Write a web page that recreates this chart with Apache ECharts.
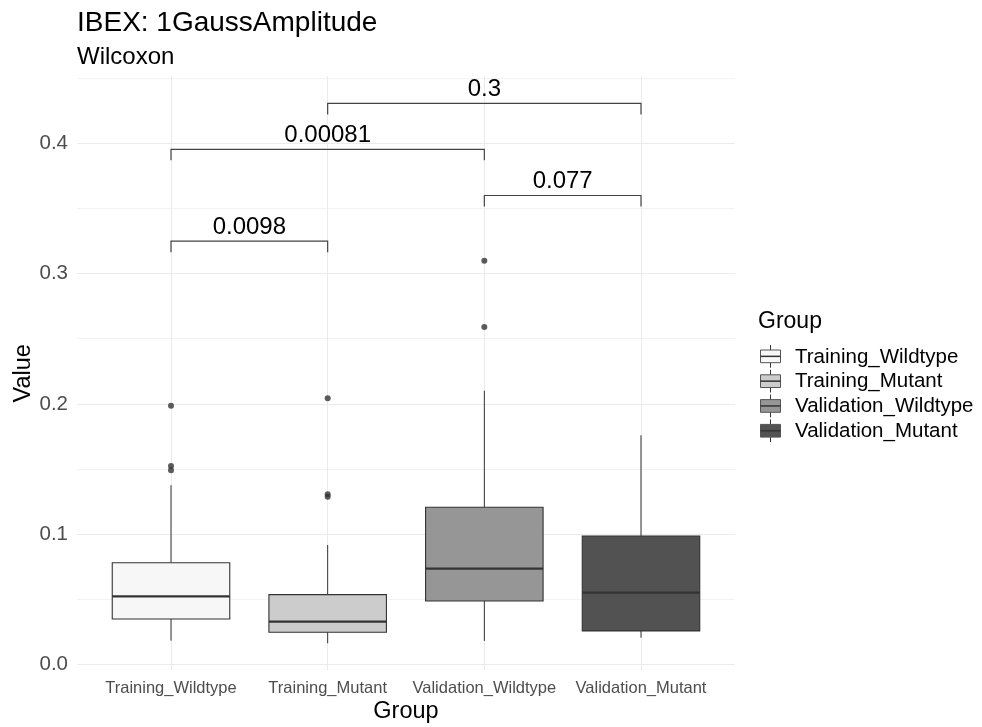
<!DOCTYPE html>
<html>
<head>
<meta charset="utf-8">
<script src="https://cdn.jsdelivr.net/npm/echarts@6/dist/echarts.min.js"></script>
<style>html,body{margin:0;padding:0;background:#fff}#c{width:982px;height:727px}</style>
</head>
<body>
<div id="c"></div>
<script>
const categories = ['Training_Wildtype', 'Training_Mutant', 'Validation_Wildtype', 'Validation_Mutant'];
const fillColors = ['#f7f7f7', '#cccccc', '#969696', '#525252'];
const whiskerLow = [0.0181, 0.0161, 0.0179, 0.0204];
const q1 = [0.0348, 0.0246, 0.0486, 0.0256];
const median = [0.0522, 0.0327, 0.0734, 0.0550];
const q3 = [0.0780, 0.0535, 0.1206, 0.0985];
const whiskerHigh = [0.1375, 0.0916, 0.2101, 0.1759];
const outlierGroup = [0, 0, 0, 1, 1, 1, 2, 2];
const outlierValue = [0.1986, 0.1523, 0.1490, 0.2043, 0.1306, 0.1287, 0.3100, 0.2590];
const bracketFrom = [0, 0, 2, 1];
const bracketTo = [1, 2, 3, 3];
const bracketY = [0.3250, 0.3955, 0.3600, 0.4307];
const bracketLabel = ['0.0098', '0.00081', '0.077', '0.3'];
const yMajorTicks = [0, 0.1, 0.2, 0.3, 0.4];
const yMinorTicks = [0.05, 0.15, 0.25, 0.35, 0.45];

const FONT = 'Liberation Sans, Arial, Helvetica, sans-serif';
const chart = echarts.init(document.getElementById('c'), null, {renderer: 'canvas'});

const boxData = categories.map((c, i) => [i, whiskerLow[i], q1[i], median[i], q3[i], whiskerHigh[i]]);
const outlierData = outlierGroup.map((g, i) => [g, outlierValue[i]]);
const bracketData = bracketFrom.map((f, i) => [f, bracketTo[i], bracketY[i], i]);

const HALF = 0.375;
const TICKLEN = 0.0085;

const legendGraphic = [];
legendGraphic.push({type: 'text', left: 758, top: 310, style: {text: 'Group', font: '23px ' + FONT, fill: '#000'}});
categories.forEach((c, i) => {
  const top = 350 + i * 24.8;
  legendGraphic.push({type: 'line', shape: {x1: 770.5, y1: top - 5, x2: 770.5, y2: top + 17.7}, style: {stroke: '#333', lineWidth: 1}});
  legendGraphic.push({type: 'rect', shape: {x: 760.5, y: top, width: 20, height: 12.7}, style: {fill: fillColors[i], stroke: '#555', lineWidth: 1}});
  legendGraphic.push({type: 'line', shape: {x1: 760.5, y1: top + 6.35, x2: 780.5, y2: top + 6.35}, style: {stroke: '#333', lineWidth: 1.5}});
  legendGraphic.push({type: 'text', left: 795, top: top + 6.35 - 10, style: {text: c, font: '20.5px ' + FONT, fill: '#000', verticalAlign: 'top'}});
});

const option = {
  backgroundColor: '#ffffff',
  animation: false,
  title: [
    {text: 'IBEX: 1GaussAmplitude', left: 72, top: 4, padding: 5, textStyle: {fontFamily: FONT, fontSize: 28, fontWeight: 'normal', color: '#000'}},
    {text: 'Wilcoxon', left: 72, top: 40, padding: 5, textStyle: {fontFamily: FONT, fontSize: 24, fontWeight: 'normal', color: '#000'}}
  ],
  grid: {left: 77, right: 247, top: 76, bottom: 56.5, containLabel: false, outerBoundsMode: 'none'},
  xAxis: {
    type: 'value', min: -0.6, max: 3.6,
    name: 'Group', nameLocation: 'middle', nameGap: 29, nameMoveOverlap: false,
    nameTextStyle: {fontFamily: FONT, fontSize: 23.5, color: '#000'},
    axisLine: {show: false},
    axisTick: {show: false, customValues: [0, 1, 2, 3]},
    axisLabel: {customValues: [0, 1, 2, 3], formatter: v => categories[Math.round(v)], fontFamily: FONT, fontSize: 16.5, color: '#4d4d4d', margin: 9},
    splitLine: {show: true, lineStyle: {color: '#ebebeb', width: 1}}
  },
  yAxis: [
    {
      type: 'value', min: -0.0048, max: 0.4518,
      name: 'Value', nameLocation: 'middle', nameGap: 41, nameRotate: 90, nameMoveOverlap: false,
      nameTextStyle: {fontFamily: FONT, fontSize: 23.5, color: '#000'},
      axisLine: {show: false},
      axisTick: {show: false, customValues: yMajorTicks},
      axisLabel: {customValues: yMajorTicks, formatter: v => v.toFixed(1), fontFamily: FONT, fontSize: 20.5, color: '#4d4d4d', margin: 9},
      splitLine: {show: true, lineStyle: {color: '#ebebeb', width: 1.1}}
    },
    {
      type: 'value', min: -0.0048, max: 0.4518, position: 'left',
      axisLine: {show: false},
      axisTick: {show: false, customValues: yMinorTicks},
      axisLabel: {show: false, customValues: yMinorTicks},
      splitLine: {show: true, lineStyle: {color: '#f0f0f0', width: 0.8}}
    }
  ],
  graphic: legendGraphic,
  series: [
    {
      type: 'custom',
      data: boxData,
      z: 3,
      renderItem: function (params, api) {
        const i = api.value(0);
        const left = api.coord([i - HALF, 0])[0];
        const right = api.coord([i + HALF, 0])[0];
        const cx = api.coord([i, 0])[0];
        const yLow = api.coord([i, api.value(1)])[1];
        const yQ1 = api.coord([i, api.value(2)])[1];
        const yMed = api.coord([i, api.value(3)])[1];
        const yQ3 = api.coord([i, api.value(4)])[1];
        const yHigh = api.coord([i, api.value(5)])[1];
        return {
          type: 'group',
          children: [
            {type: 'line', shape: {x1: cx, y1: yQ3, x2: cx, y2: yHigh}, style: {stroke: '#333', lineWidth: 1}},
            {type: 'line', shape: {x1: cx, y1: yQ1, x2: cx, y2: yLow}, style: {stroke: '#333', lineWidth: 1}},
            {type: 'rect', shape: {x: left, y: yQ3, width: right - left, height: yQ1 - yQ3}, style: {fill: fillColors[i], stroke: '#333', lineWidth: 1.1}},
            {type: 'line', shape: {x1: left, y1: yMed, x2: right, y2: yMed}, style: {stroke: '#333', lineWidth: 2.2}}
          ]
        };
      }
    },
    {
      type: 'scatter',
      data: outlierData,
      symbol: 'circle',
      symbolSize: 6,
      z: 4,
      itemStyle: {color: '#333333'}
    },
    {
      type: 'custom',
      data: bracketData,
      z: 5,
      renderItem: function (params, api) {
        const f = api.value(0), t = api.value(1), y = api.value(2), idx = api.value(3);
        const p1 = api.coord([f, y]);
        const p2 = api.coord([t, y]);
        const yb = api.coord([f, y - TICKLEN])[1];
        return {
          type: 'group',
          children: [
            {type: 'polyline', shape: {points: [[p1[0], yb], [p1[0], p1[1]], [p2[0], p2[1]], [p2[0], yb]]}, style: {stroke: '#444', lineWidth: 1.2, fill: null}},
            {type: 'text', x: (p1[0] + p2[0]) / 2, y: p1[1] - 2, style: {text: bracketLabel[idx], font: '24px ' + FONT, fill: '#000', align: 'center', verticalAlign: 'bottom'}}
          ]
        };
      }
    }
  ]
};
chart.setOption(option);
</script>
</body>
</html>
